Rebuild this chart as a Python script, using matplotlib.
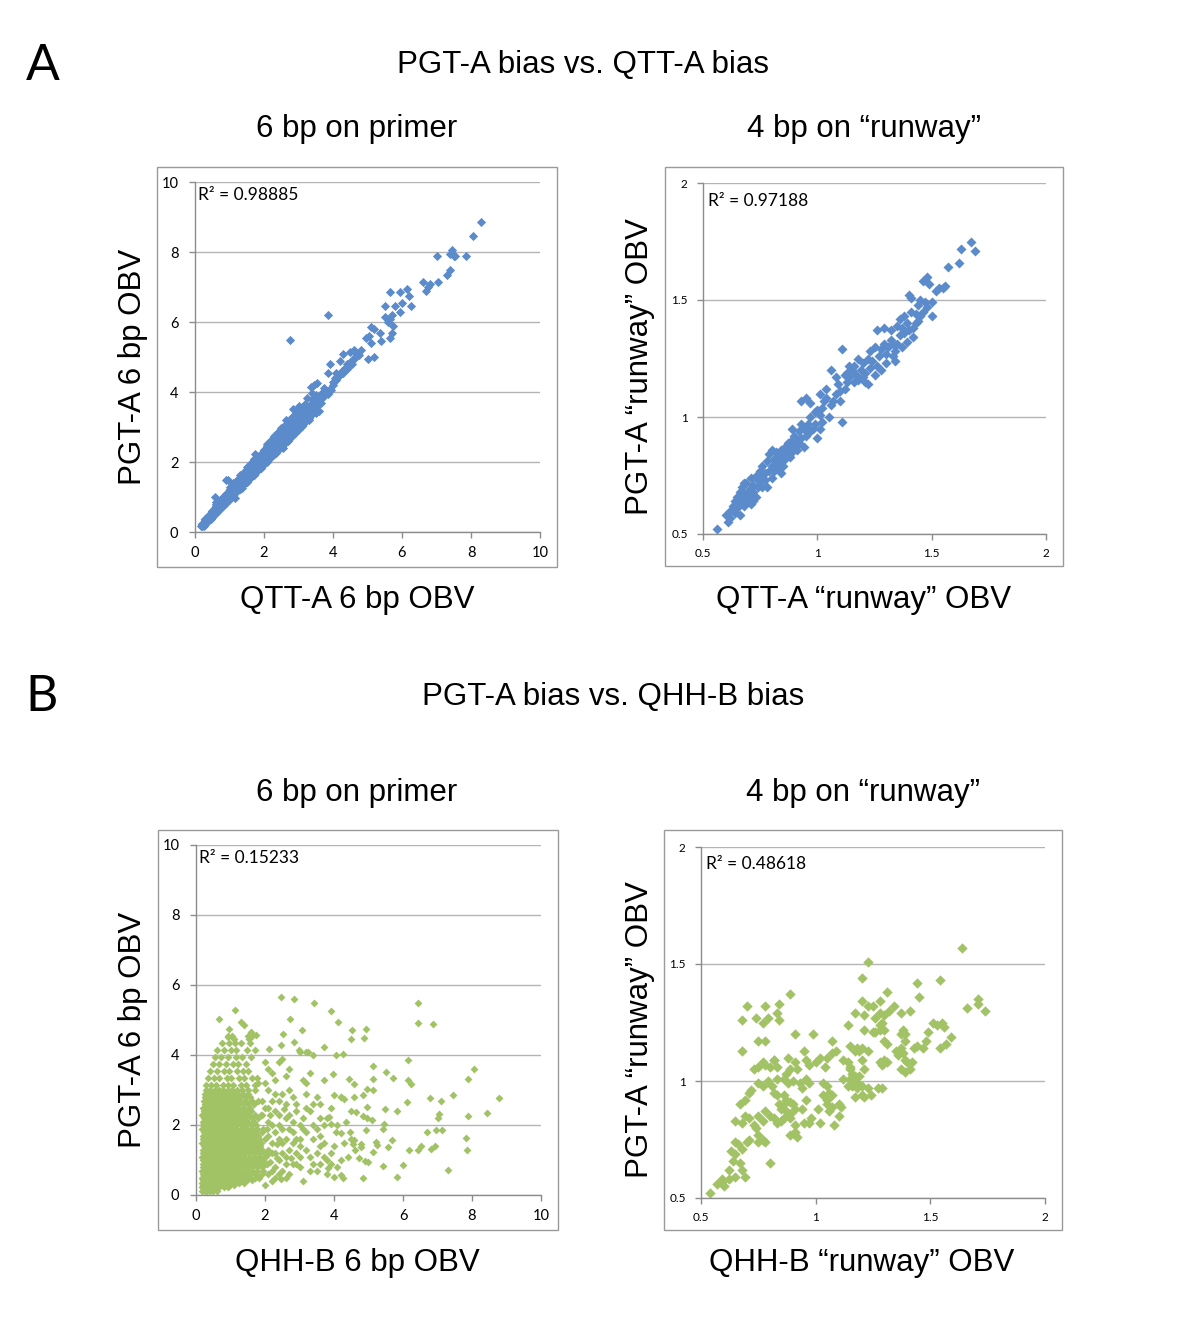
import matplotlib
matplotlib.use("Agg")
import matplotlib.pyplot as plt
from matplotlib.patches import Rectangle

plt.rcParams['font.family'] = ['Lato', 'DejaVu Sans']

W, H = 1200, 1333
BLUE = "#5B8BCB"
GREEN = "#A2C266"
AXIS_GRAY = "#8C8C8C"
GRID_GRAY = "#B4B4B4"
LABEL_FONT = ['Liberation Sans', 'DejaVu Sans']

# ---------------------------------------------------------------
# data (x, y)
# ---------------------------------------------------------------
# A, 6 bp on primer : QTT-A 6 bp OBV vs PGT-A 6 bp OBV
# the dense diagonal band, one column of y values per x position
a6_band_cols = [0.2, 0.3, 0.4, 0.5, 0.6, 0.7, 0.8, 0.9, 1.0, 1.1, 1.2, 1.3, 1.4, 1.5, 1.6, 1.7,
                1.8, 1.9, 2.0, 2.1, 2.2, 2.3, 2.4, 2.5, 2.6, 2.7, 2.8, 2.9, 3.0, 3.1, 3.2, 3.3,
                3.4, 3.5]
a6_band_ys = [
    [0.16, 0.23], [0.23, 0.30, 0.37], [0.33, 0.41, 0.49], [0.43, 0.52, 0.61],
    [0.53, 0.63, 0.73], [0.63, 0.74, 0.86], [0.73, 0.84, 0.97], [0.83, 0.95, 1.08],
    [0.93, 1.04, 1.15, 1.22], [1.03, 1.14, 1.25, 1.32], [1.13, 1.24, 1.35, 1.44],
    [1.23, 1.34, 1.45, 1.55], [1.33, 1.44, 1.56, 1.66], [1.43, 1.55, 1.67, 1.78],
    [1.53, 1.65, 1.77, 1.88], [1.63, 1.75, 1.88, 2.00], [1.73, 1.86, 2.00, 2.14],
    [1.83, 1.96, 2.10, 2.24], [1.93, 2.06, 2.20, 2.34], [2.03, 2.16, 2.30, 2.45],
    [2.13, 2.27, 2.41, 2.55], [2.23, 2.37, 2.52, 2.67], [2.33, 2.48, 2.63, 2.79],
    [2.43, 2.58, 2.74, 2.90], [2.53, 2.69, 2.85, 3.00], [2.63, 2.80, 2.96, 3.12],
    [2.74, 2.91, 3.08, 3.24], [2.84, 3.01, 3.18, 3.34], [2.94, 3.11, 3.28, 3.44],
    [3.04, 3.21, 3.38, 3.54], [3.14, 3.31, 3.47, 3.62], [3.25, 3.42, 3.58],
    [3.36, 3.52, 3.70], [3.46, 3.62, 3.78],
]
a6_low = [(0.18, 0.17), (0.22, 0.20), (0.25, 0.22), (0.28, 0.27), (0.30, 0.25), (0.32, 0.30),
          (0.35, 0.33), (0.38, 0.35), (0.40, 0.40), (0.42, 0.38), (0.45, 0.45), (0.48, 0.43),
          (0.50, 0.50), (0.52, 0.48), (0.55, 0.55), (0.58, 0.52), (0.60, 0.62), (0.62, 0.58),
          (0.65, 0.66), (0.68, 0.63), (0.70, 0.72), (0.72, 0.68), (0.75, 0.76), (0.78, 0.73),
          (0.80, 0.82), (0.82, 0.78), (0.85, 0.88), (0.88, 0.84), (0.90, 0.92), (0.92, 0.88),
          (0.95, 0.98), (0.98, 0.94), (1.00, 1.03), (0.30, 0.35), (0.40, 0.47), (0.50, 0.58),
          (0.55, 0.65), (0.60, 0.72), (0.65, 0.78), (0.70, 0.82), (0.75, 0.88), (0.58, 1.00),
          (0.90, 1.50), (0.96, 1.50), (0.60, 0.80), (0.80, 0.95), (0.85, 1.02), (0.25, 0.18),
          (0.35, 0.28), (0.45, 0.38), (0.20, 0.24), (0.72, 0.92), (0.62, 0.86)]
a6_mid = [(1.02, 0.98), (1.05, 1.08), (1.08, 1.05), (1.10, 1.15), (1.15, 1.20), (1.20, 1.25),
          (1.25, 1.30), (1.30, 1.36), (1.35, 1.42), (1.40, 1.48), (1.45, 1.52), (1.50, 1.58),
          (1.55, 1.62), (1.60, 1.68), (1.65, 1.73), (1.70, 1.78), (1.75, 1.84), (1.80, 1.90),
          (1.85, 1.95), (1.90, 2.00), (1.95, 2.05), (1.10, 1.40), (1.30, 1.62), (1.52, 1.85),
          (1.70, 2.10), (1.75, 2.22), (1.80, 2.18), (1.00, 1.28), (1.15, 0.98), (1.35, 1.25),
          (1.55, 1.48), (1.75, 1.68), (1.25, 1.52), (1.45, 1.75), (1.62, 1.98)]
a6_upper = [(2.10, 2.52), (2.30, 2.74), (2.40, 2.86), (2.55, 2.40), (2.60, 3.05), (2.80, 3.30),
            (2.10, 2.00), (2.35, 2.25), (2.70, 2.60), (2.20, 2.62), (2.65, 3.20), (2.50, 2.98),
            (3.00, 3.20), (3.10, 3.55), (3.20, 3.65), (3.00, 3.60), (2.85, 3.52), (2.95, 3.48),
            (3.40, 3.80), (3.30, 3.20), (3.50, 3.40), (3.60, 3.45), (3.45, 4.20), (3.55, 4.25),
            (3.35, 4.15), (3.85, 4.55), (3.60, 3.75), (3.65, 3.70), (3.70, 3.85), (3.75, 3.90),
            (3.80, 4.00), (3.85, 3.95), (3.90, 4.10), (3.95, 4.05), (3.70, 4.00), (4.00, 4.30),
            (3.55, 3.60), (3.65, 3.95), (3.75, 4.12), (3.50, 3.92), (3.40, 3.98), (3.25, 3.82)]
a6_high = [(4.00, 4.20), (4.05, 4.40), (4.10, 4.35), (4.15, 4.45), (4.20, 4.50), (4.25, 4.60),
           (4.30, 4.55), (4.35, 4.70), (4.40, 4.80), (4.45, 4.75), (4.50, 4.85), (4.55, 4.80),
           (4.60, 4.95), (4.65, 5.00), (4.70, 5.10), (4.75, 5.05), (4.80, 5.20), (4.30, 5.10),
           (4.50, 5.15), (4.60, 5.20), (4.40, 4.65), (3.90, 4.80), (4.20, 4.90), (4.10, 4.55),
           (5.05, 5.60), (5.10, 5.40), (5.20, 5.80), (5.00, 4.95), (5.20, 5.00), (5.40, 5.45),
           (5.50, 6.15), (5.50, 6.45), (5.60, 6.00), (5.65, 6.10), (5.70, 6.20), (5.65, 5.55),
           (5.70, 5.70), (5.75, 5.90), (5.80, 6.45), (5.65, 6.85), (5.95, 6.85), (6.00, 6.55),
           (5.95, 6.30), (6.15, 6.95), (6.20, 6.75), (6.25, 6.45), (6.60, 7.15), (6.70, 6.90),
           (6.75, 7.00), (6.80, 7.10), (7.05, 7.15), (7.00, 7.90), (7.30, 7.35), (7.40, 7.50),
           (7.40, 7.95), (7.45, 8.05), (7.50, 7.90), (7.55, 7.90), (7.85, 7.90), (8.05, 8.45),
           (8.30, 8.85), (5.10, 5.85), (4.95, 5.55), (5.35, 5.70), (2.75, 5.50), (3.85, 6.20)]

# A, 4 bp on runway : QTT-A runway OBV vs PGT-A runway OBV
a4_low = [(0.56, 0.52), (0.60, 0.58), (0.61, 0.55), (0.62, 0.60), (0.63, 0.62), (0.64, 0.59),
          (0.64, 0.64), (0.65, 0.61), (0.65, 0.66), (0.66, 0.63), (0.66, 0.68), (0.67, 0.65),
          (0.67, 0.70), (0.68, 0.62), (0.68, 0.67), (0.69, 0.64), (0.69, 0.72), (0.70, 0.66),
          (0.70, 0.69), (0.71, 0.63), (0.71, 0.74), (0.72, 0.68), (0.72, 0.71), (0.73, 0.66),
          (0.73, 0.75), (0.74, 0.70), (0.74, 0.73), (0.75, 0.77), (0.75, 0.71), (0.76, 0.74),
          (0.76, 0.79), (0.77, 0.73), (0.77, 0.76), (0.78, 0.81), (0.78, 0.70), (0.79, 0.77),
          (0.79, 0.84), (0.80, 0.79), (0.80, 0.74), (0.81, 0.82), (0.81, 0.77), (0.82, 0.85),
          (0.82, 0.80), (0.83, 0.78), (0.83, 0.83), (0.84, 0.86), (0.84, 0.81), (0.85, 0.84),
          (0.85, 0.79), (0.86, 0.87), (0.86, 0.82), (0.87, 0.85), (0.87, 0.89), (0.88, 0.83),
          (0.88, 0.87), (0.89, 0.90), (0.89, 0.85), (0.90, 0.88), (0.90, 0.92), (0.91, 0.86),
          (0.91, 0.90), (0.92, 0.94), (0.92, 0.89), (0.93, 0.91), (0.94, 0.87), (0.94, 0.95),
          (0.95, 0.92), (0.96, 0.97), (0.97, 0.94), (0.62, 0.57), (0.66, 0.58), (0.68, 0.72),
          (0.72, 0.64), (0.76, 0.70), (0.80, 0.86), (0.84, 0.76), (0.89, 0.95), (0.93, 0.97),
          (0.96, 0.93)]
a4_high = [(0.97, 1.00), (0.98, 0.95), (0.99, 0.97), (1.00, 0.91), (1.01, 0.95), (1.02, 0.98),
           (1.00, 1.03), (1.01, 1.01), (1.02, 1.04), (1.03, 1.07), (0.93, 1.07), (0.95, 1.08),
           (0.97, 1.06), (1.01, 1.10), (1.04, 1.12), (1.06, 1.05), (1.07, 1.07), (1.08, 1.10),
           (1.09, 1.14), (1.10, 1.07), (1.10, 1.11), (1.11, 1.29), (1.11, 0.98), (1.12, 1.12),
           (1.12, 1.18), (1.13, 1.15), (1.13, 1.19), (1.14, 1.22), (1.14, 1.17), (1.15, 1.20),
           (1.16, 1.22), (1.16, 1.15), (1.17, 1.18), (1.06, 1.20), (1.08, 1.17), (1.18, 1.16),
           (1.19, 1.20), (1.20, 1.17), (1.20, 1.23), (1.21, 1.15), (1.21, 1.19), (1.22, 1.25),
           (1.22, 1.14), (1.23, 1.28), (1.23, 1.21), (1.24, 1.24), (1.25, 1.18), (1.25, 1.30),
           (1.26, 1.22), (1.26, 1.37), (1.27, 1.26), (1.28, 1.20), (1.28, 1.29), (1.29, 1.31),
           (1.30, 1.27), (1.30, 1.23), (1.31, 1.30), (1.32, 1.33), (1.32, 1.37), (1.33, 1.26),
           (1.33, 1.31), (1.34, 1.24), (1.34, 1.28), (1.35, 1.31), (1.35, 1.39), (1.36, 1.42),
           (1.36, 1.35), (1.37, 1.38), (1.37, 1.30), (1.38, 1.36), (1.38, 1.43), (1.39, 1.40),
           (1.40, 1.37), (1.40, 1.52), (1.41, 1.45), (1.41, 1.51), (1.42, 1.38), (1.42, 1.34),
           (1.43, 1.44), (1.43, 1.40), (1.44, 1.41), (1.44, 1.48), (1.45, 1.50), (1.45, 1.43),
           (1.46, 1.45), (1.46, 1.58), (1.47, 1.49), (1.48, 1.60), (1.48, 1.47), (1.49, 1.57),
           (1.50, 1.43), (1.50, 1.49), (1.52, 1.54), (1.53, 1.55), (1.55, 1.55), (1.56, 1.56),
           (1.57, 1.64), (1.62, 1.66), (1.63, 1.72), (1.67, 1.75), (1.69, 1.71), (1.29, 1.38),
           (1.39, 1.32), (1.18, 1.25), (1.04, 1.08), (0.99, 1.02), (1.05, 1.00)]

# B, 6 bp on primer : QHH-B 6 bp OBV vs PGT-A 6 bp OBV
# dense core: one row of x positions per y level
b6_core_levels = [0.12, 0.22, 0.28, 0.35, 0.42, 0.5, 0.6, 0.7, 0.8, 0.9, 1.0, 1.1, 1.2, 1.3,
                  1.4, 1.5, 1.6, 1.7, 1.8, 1.9, 2.0, 2.1, 2.2, 2.3, 2.4, 2.5, 2.6, 2.7, 2.8,
                  2.9, 3.0, 3.15, 3.35, 3.55, 3.75, 3.95, 4.15, 4.35, 4.55]
b6_core_xs = [
    [0.18, 0.25, 0.32, 0.40, 0.50, 0.60],
    [0.17, 0.28, 0.38, 0.48, 0.58, 0.68, 0.80, 0.92],
    [0.21, 0.33, 0.43, 0.53, 0.63, 0.74, 0.86, 0.98, 1.10],
    [0.16, 0.24, 0.34, 0.44, 0.55, 0.65, 0.76, 0.88, 1.00, 1.12, 1.25, 1.38],
    [0.20, 0.30, 0.40, 0.50, 0.61, 0.72, 0.83, 0.95, 1.07, 1.19, 1.32, 1.48, 1.62],
    [0.18, 0.27, 0.37, 0.47, 0.57, 0.68, 0.79, 0.90, 1.02, 1.14, 1.27, 1.40, 1.55, 1.70, 1.84],
    [0.21, 0.31, 0.42, 0.52, 0.63, 0.74, 0.85, 0.96, 1.08, 1.20, 1.33, 1.46, 1.60, 1.75, 1.90],
    [0.16, 0.25, 0.35, 0.46, 0.56, 0.67, 0.78, 0.89, 1.00, 1.12, 1.24, 1.37, 1.50, 1.63, 1.78, 1.95],
    [0.21, 0.31, 0.42, 0.53, 0.64, 0.75, 0.86, 0.98, 1.10, 1.22, 1.35, 1.48, 1.62, 1.76, 1.92],
    [0.19, 0.29, 0.39, 0.50, 0.61, 0.72, 0.83, 0.95, 1.07, 1.19, 1.32, 1.45, 1.58, 1.72, 1.88, 2.05],
    [0.20, 0.31, 0.42, 0.53, 0.64, 0.75, 0.87, 0.99, 1.11, 1.24, 1.37, 1.50, 1.64, 1.80, 1.95],
    [0.16, 0.26, 0.36, 0.47, 0.58, 0.69, 0.80, 0.92, 1.04, 1.16, 1.29, 1.42, 1.56, 1.70, 1.85, 2.00],
    [0.21, 0.32, 0.43, 0.54, 0.66, 0.77, 0.89, 1.01, 1.13, 1.26, 1.40, 1.54, 1.68, 1.83, 1.98],
    [0.19, 0.29, 0.40, 0.51, 0.62, 0.73, 0.85, 0.97, 1.09, 1.22, 1.35, 1.48, 1.62, 1.77, 1.92],
    [0.22, 0.33, 0.44, 0.56, 0.67, 0.79, 0.91, 1.03, 1.16, 1.29, 1.42, 1.56, 1.70, 1.86],
    [0.16, 0.26, 0.37, 0.48, 0.59, 0.70, 0.82, 0.94, 1.06, 1.18, 1.31, 1.44, 1.58, 1.73, 1.88],
    [0.21, 0.32, 0.43, 0.54, 0.65, 0.77, 0.89, 1.01, 1.13, 1.26, 1.39, 1.53, 1.68, 1.84],
    [0.19, 0.29, 0.40, 0.51, 0.62, 0.74, 0.86, 0.98, 1.10, 1.23, 1.36, 1.50, 1.65, 1.80],
    [0.22, 0.33, 0.44, 0.56, 0.68, 0.80, 0.92, 1.04, 1.17, 1.30, 1.44, 1.58, 1.73, 1.90],
    [0.17, 0.27, 0.38, 0.49, 0.60, 0.71, 0.83, 0.95, 1.07, 1.20, 1.33, 1.47, 1.62, 1.78, 1.95],
    [0.21, 0.32, 0.43, 0.55, 0.67, 0.79, 0.91, 1.03, 1.16, 1.29, 1.43, 1.58, 1.74],
    [0.19, 0.29, 0.40, 0.51, 0.62, 0.74, 0.86, 0.98, 1.11, 1.24, 1.38, 1.52, 1.68],
    [0.22, 0.34, 0.45, 0.57, 0.69, 0.81, 0.93, 1.05, 1.18, 1.32, 1.46, 1.62, 1.80],
    [0.17, 0.27, 0.38, 0.49, 0.61, 0.73, 0.85, 0.97, 1.10, 1.23, 1.37, 1.52, 1.70, 1.88],
    [0.22, 0.33, 0.44, 0.56, 0.68, 0.80, 0.92, 1.05, 1.18, 1.31, 1.45, 1.60],
    [0.20, 0.30, 0.41, 0.52, 0.64, 0.76, 0.88, 1.00, 1.13, 1.26, 1.40, 1.56],
    [0.25, 0.36, 0.47, 0.59, 0.71, 0.83, 0.95, 1.08, 1.21, 1.35, 1.50, 1.68],
    [0.22, 0.32, 0.43, 0.55, 0.67, 0.79, 0.91, 1.04, 1.17, 1.31, 1.46, 1.62, 1.80],
    [0.27, 0.38, 0.50, 0.62, 0.74, 0.86, 0.99, 1.12, 1.26, 1.41, 1.57],
    [0.25, 0.36, 0.47, 0.59, 0.71, 0.83, 0.96, 1.09, 1.22, 1.36, 1.52],
    [0.30, 0.42, 0.54, 0.66, 0.79, 0.92, 1.05, 1.19, 1.34, 1.50],
    [0.30, 0.44, 0.58, 0.77, 0.93, 1.08, 1.30, 1.45, 1.70],
    [0.36, 0.52, 0.66, 0.90, 1.02, 1.24, 1.40, 1.62, 1.78],
    [0.42, 0.60, 0.81, 0.95, 1.18, 1.35, 1.52],
    [0.48, 0.66, 0.88, 1.08, 1.22, 1.44],
    [0.55, 0.72, 0.92, 1.16, 1.33, 1.60],
    [0.62, 0.82, 1.00, 1.15, 1.48, 1.72],
    [0.75, 0.95, 1.12, 1.30, 1.56],
    [0.92, 1.05, 1.50, 1.62],
]
b6_mid = [(2.0, 3.8), (2.1, 3.6), (2.2, 3.5), (2.0, 3.2), (2.1, 3.0), (2.3, 3.3), (2.4, 3.8),
          (2.5, 3.9), (2.6, 3.4), (2.7, 3.0), (2.5, 2.9), (2.4, 2.7), (2.6, 2.6), (2.8, 2.8),
          (2.9, 2.4), (3.1, 2.2), (3.2, 2.5), (3.3, 2.4), (3.0, 2.0), (3.2, 1.8), (3.4, 2.0),
          (3.5, 1.9), (3.6, 1.7), (3.7, 1.5), (3.6, 1.4), (3.5, 1.2), (3.7, 1.1), (3.8, 1.0),
          (3.4, 0.9), (3.3, 0.7), (3.1, 0.4), (3.0, 0.8), (2.9, 1.2), (2.8, 1.5), (2.7, 1.9),
          (2.6, 2.2), (2.5, 1.5), (2.4, 1.0), (2.5, 0.7), (2.3, 0.5), (2.2, 0.4), (2.1, 0.6),
          (2.0, 0.3), (2.2, 1.2), (2.3, 1.8), (2.1, 2.1), (2.0, 2.5), (2.2, 2.7), (2.4, 2.3),
          (3.2, 3.2), (3.3, 3.5), (3.1, 3.3), (3.2, 2.9), (3.5, 2.8), (3.6, 2.6), (3.8, 2.2),
          (3.9, 2.5), (3.0, 1.6), (3.2, 1.3), (3.4, 1.6), (3.7, 2.0), (3.9, 1.2), (3.6, 0.9),
          (3.8, 0.6), (2.7, 0.6), (2.6, 1.1), (2.9, 0.9), (3.0, 1.4), (2.8, 2.1), (2.9, 2.6),
          (2.3, 2.9), (2.7, 3.6), (3.0, 4.1), (3.2, 4.1), (4.2, 2.8), (4.1, 2.0), (4.3, 1.5),
          (4.5, 1.6), (4.2, 1.0), (4.1, 0.8), (4.0, 1.4), (4.4, 1.1), (4.6, 1.3), (4.5, 2.4),
          (1.9, 2.3), (2.0, 1.6), (2.1, 1.3), (2.0, 0.9), (1.9, 1.0), (2.2, 2.0), (1.8, 3.2),
          (1.7, 3.0), (1.9, 2.7), (2.05, 1.9), (2.15, 0.95), (2.35, 1.45), (2.45, 0.45),
          (2.1, 1.7), (2.2, 1.5), (2.3, 1.2), (2.3, 0.8), (2.4, 1.6), (2.5, 1.2), (2.5, 1.9),
          (2.6, 0.9), (2.6, 1.6), (2.7, 1.3), (2.7, 2.3), (2.8, 0.9), (2.8, 1.8), (2.9, 1.6),
          (2.1, 2.5), (2.3, 2.4), (2.4, 2.0), (2.2, 0.7), (2.4, 0.6), (2.6, 0.5), (2.05, 1.15),
          (2.15, 2.3), (2.35, 1.05), (2.55, 2.45), (2.75, 1.05), (3.0, 1.1), (3.1, 1.9),
          (3.3, 1.1), (3.4, 2.6), (3.5, 0.7), (3.6, 2.2), (3.7, 3.3), (3.9, 0.9)]
b6_sparse = [(2.46, 5.67), (2.83, 5.61), (3.43, 5.48), (1.14, 5.29), (3.91, 5.26), (6.43, 5.49),
             (6.43, 4.92), (6.88, 4.90), (0.68, 5.02), (2.73, 5.04), (4.13, 4.94), (4.51, 4.71),
             (4.49, 4.47), (4.94, 4.73), (4.88, 4.50), (3.06, 4.71), (0.97, 4.75), (0.92, 4.52),
             (1.11, 4.47), (1.29, 4.94), (1.40, 4.87), (1.59, 4.66), (1.55, 4.47), (1.74, 4.56),
             (2.13, 4.18), (2.46, 4.28), (2.51, 4.61), (2.85, 4.37), (3.72, 4.23), (2.98, 4.14),
             (3.24, 4.09), (3.38, 3.99), (4.06, 3.99), (4.25, 4.04), (6.14, 3.87), (8.05, 3.61),
             (7.87, 3.31), (5.12, 3.68), (5.51, 3.52), (5.70, 3.35), (4.44, 3.31), (4.59, 3.18),
             (3.98, 3.45), (6.14, 3.28), (6.23, 3.16), (5.12, 3.31), (4.97, 3.04), (5.14, 2.99),
             (4.83, 2.85), (4.59, 2.80), (4.01, 2.85), (4.20, 2.80), (4.28, 2.74), (7.44, 2.85),
             (6.78, 2.76), (7.10, 2.68), (8.79, 2.76), (6.12, 2.66), (4.97, 2.52), (5.49, 2.47),
             (5.84, 2.40), (4.65, 2.38), (4.83, 2.26), (4.97, 2.19), (8.43, 2.35), (7.05, 2.31),
             (7.02, 2.19), (7.87, 2.26), (5.09, 2.14), (4.35, 2.09), (5.46, 2.02), (5.41, 1.90),
             (3.86, 2.23), (3.91, 2.04), (4.06, 1.81), (4.20, 1.76), (6.71, 1.81), (6.96, 1.85),
             (7.12, 1.85), (4.47, 1.81), (4.93, 1.85), (4.59, 1.57), (4.54, 1.47), (4.78, 1.47),
             (5.67, 1.57), (5.22, 1.52), (5.25, 1.43), (5.56, 1.38), (4.78, 1.38), (7.83, 1.62),
             (6.52, 1.41), (6.43, 1.28), (6.81, 1.31), (6.94, 1.41), (6.18, 1.28), (7.85, 1.28),
             (5.12, 1.24), (4.73, 1.05), (4.90, 0.98), (4.98, 0.95), (5.41, 0.84), (5.99, 0.86),
             (7.29, 0.71), (5.83, 0.52), (4.83, 0.48), (4.01, 0.52), (4.20, 0.57), (4.25, 0.48),
             (3.82, 0.76)]

# B, 4 bp on runway : QHH-B runway OBV vs PGT-A runway OBV
b4_pts = [(0.54, 0.52), (0.57, 0.56), (0.59, 0.57), (0.60, 0.55), (0.59, 0.58), (0.62, 0.58),
          (0.62, 0.62), (0.64, 0.66), (0.65, 0.59), (0.63, 0.70), (0.65, 0.69), (0.67, 0.65),
          (0.68, 0.62), (0.69, 0.59), (0.65, 0.74), (0.66, 0.73), (0.70, 0.74), (0.68, 0.71),
          (0.71, 0.75), (0.65, 0.83), (0.68, 0.82), (0.69, 0.85), (0.71, 0.84), (0.73, 0.81),
          (0.67, 0.90), (0.69, 0.92), (0.71, 0.95), (0.72, 0.96), (0.74, 0.80), (0.75, 0.77),
          (0.75, 0.74), (0.77, 0.75), (0.78, 0.74), (0.80, 0.65), (0.77, 0.83), (0.75, 0.85),
          (0.78, 0.87), (0.80, 0.85), (0.82, 0.84), (0.83, 0.82), (0.85, 0.83), (0.75, 0.99),
          (0.77, 0.98), (0.79, 1.00), (0.81, 0.98), (0.82, 0.95), (0.73, 1.05), (0.75, 1.06),
          (0.77, 1.08), (0.78, 1.07), (0.80, 1.06), (0.82, 1.09), (0.75, 1.17), (0.78, 1.17),
          (0.77, 1.25), (0.79, 1.27), (0.78, 1.32), (0.74, 1.27), (0.70, 1.32), (0.68, 1.26),
          (0.68, 1.13), (0.84, 1.33), (0.83, 1.29), (0.84, 1.26), (0.89, 1.37), (0.82, 1.09),
          (0.83, 1.06), (0.83, 1.01), (0.83, 0.94), (0.86, 0.94), (0.87, 0.92), (0.84, 0.90),
          (0.85, 0.88), (0.86, 0.90), (0.89, 0.91), (0.90, 0.90), (0.87, 0.87), (0.89, 0.86),
          (0.91, 0.88), (0.86, 0.84), (0.89, 0.84), (0.88, 1.10), (0.91, 1.08), (0.89, 1.05),
          (0.92, 1.05), (0.87, 1.03), (0.86, 1.01), (0.88, 0.99), (0.90, 1.00), (0.93, 0.99),
          (0.91, 1.20), (0.99, 1.20), (0.95, 1.13), (0.96, 1.09), (0.97, 1.07), (1.00, 1.08),
          (0.96, 1.01), (0.97, 0.99), (0.94, 0.97), (0.96, 0.92), (0.94, 0.88), (0.97, 0.82),
          (0.95, 0.82), (0.98, 0.84), (0.91, 0.81), (0.91, 0.78), (0.92, 0.76), (0.89, 0.77),
          (1.02, 1.10), (1.05, 1.10), (1.07, 1.17), (1.09, 1.13), (1.07, 1.12), (1.04, 1.06),
          (1.03, 0.99), (1.05, 0.98), (1.06, 0.95), (1.03, 0.94), (1.07, 0.94), (1.05, 0.92),
          (1.05, 0.90), (1.07, 0.89), (1.06, 0.87), (1.01, 0.88), (1.02, 0.82), (1.08, 0.81),
          (1.10, 0.85), (1.11, 0.89), (1.10, 0.90), (1.12, 1.09), (1.14, 1.08), (1.15, 1.06),
          (1.14, 1.24), (1.15, 1.15), (1.17, 1.13), (1.18, 1.14), (1.19, 1.13), (1.17, 1.29),
          (1.20, 1.34), (1.20, 1.44), (1.23, 1.51), (1.23, 1.32), (1.25, 1.32), (1.16, 1.03),
          (1.17, 1.02), (1.19, 1.02), (1.15, 1.01), (1.14, 0.98), (1.16, 0.98), (1.18, 0.99),
          (1.18, 0.97), (1.20, 0.98), (1.17, 0.93), (1.20, 0.94), (1.21, 0.93), (1.23, 0.97),
          (1.24, 0.94), (1.27, 0.97), (1.29, 0.97), (1.20, 1.09), (1.21, 1.05), (1.20, 1.14),
          (1.23, 1.13), (1.25, 1.21), (1.26, 1.21), (1.28, 1.22), (1.30, 1.22), (1.28, 1.24),
          (1.29, 1.25), (1.28, 1.29), (1.30, 1.28), (1.28, 1.34), (1.31, 1.38), (1.34, 1.32),
          (1.28, 1.08), (1.29, 1.07), (1.30, 1.09), (1.31, 1.08), (1.30, 1.17), (1.31, 1.16),
          (1.35, 1.13), (1.37, 1.14), (1.38, 1.12), (1.36, 1.11), (1.39, 1.09), (1.40, 1.08),
          (1.42, 1.08), (1.39, 1.04), (1.37, 1.05), (1.41, 1.05), (1.38, 1.22), (1.37, 1.20),
          (1.39, 1.17), (1.41, 1.30), (1.43, 1.14), (1.44, 1.15), (1.44, 1.42), (1.45, 1.36),
          (1.48, 1.17), (1.47, 1.14), (1.49, 1.21), (1.51, 1.25), (1.53, 1.24), (1.55, 1.25),
          (1.56, 1.23), (1.54, 1.14), (1.57, 1.16), (1.59, 1.19), (1.54, 1.43), (1.64, 1.57),
          (1.66, 1.31), (1.71, 1.35), (1.71, 1.33), (1.74, 1.30), (1.37, 1.29), (1.26, 1.27),
          (1.32, 1.30), (1.21, 1.28), (1.15, 1.05), (1.12, 1.01), (1.21, 1.22), (1.39, 1.20)]

r2_values = ["0.98885", "0.97188", "0.15233", "0.48618"]
obv_ticks = [0, 2, 4, 6, 8, 10]
runway_ticks = [0.5, 1, 1.5, 2]
runway_ticklabels = ["0.5", "1", "1.5", "2"]


def fx(px):
    return px / W


def fy(py):
    return 1 - py / H


def split(points):
    return [p[0] for p in points], [p[1] for p in points]


def unroll_cols(cols, ys_per_col):
    xs, ys = [], []
    for c, col in zip(cols, ys_per_col):
        xs += [c] * len(col)
        ys += col
    return xs, ys


fig = plt.figure(figsize=(W / 100, H / 100), dpi=100)


def make_panel(rect_px, frame_px, ticks, ticklabels, tick_fs, xpad, ypad):
    left, top, right, bottom = rect_px
    ax = fig.add_axes([fx(left), fy(bottom), fx(right - left), (bottom - top) / H])
    ax.set_xlim(ticks[0], ticks[-1])
    ax.set_ylim(ticks[0], ticks[-1])
    ax.set_xticks(ticks)
    ax.set_yticks(ticks)
    ax.set_xticklabels(ticklabels, fontsize=tick_fs)
    ax.set_yticklabels(ticklabels, fontsize=tick_fs)
    for s in ("top", "right"):
        ax.spines[s].set_visible(False)
    for s in ("left", "bottom"):
        ax.spines[s].set_color(AXIS_GRAY)
        ax.spines[s].set_linewidth(1.0)
    ax.tick_params(direction="out", length=4, width=1.0, color=AXIS_GRAY)
    ax.tick_params(axis="x", pad=xpad)
    ax.tick_params(axis="y", pad=ypad)
    ax.yaxis.grid(True, color=GRID_GRAY, lw=1.0)
    ax.set_axisbelow(True)
    ax.patch.set_alpha(0)
    fl, ft, fr, fb = frame_px
    fig.patches.append(Rectangle((fx(fl), fy(fb)), fx(fr - fl), (fb - ft) / H,
                                 transform=fig.transFigure, fill=False,
                                 edgecolor="#9A9A9A", lw=1.0, zorder=0))
    return ax


# panel A left
ax1 = make_panel((195, 182, 540, 532), (157, 167, 557, 567), obv_ticks,
                 [str(t) for t in obv_ticks], 10.5, 6, 8)
bx, by = unroll_cols(a6_band_cols, a6_band_ys)
ax1.scatter(bx, by, marker="D", s=24, color=BLUE, lw=0)
for seg in (a6_low, a6_mid, a6_upper, a6_high):
    xs, ys = split(seg)
    ax1.scatter(xs, ys, marker="D", s=22, color=BLUE, lw=0, clip_on=False)
ax1.text(0.01, 0.963, "R² = " + r2_values[0], transform=ax1.transAxes,
         fontsize=12.5, va="center", ha="left")

# panel A right
ax2 = make_panel((703, 183, 1046, 534), (665, 167, 1063, 566), runway_ticks,
                 runway_ticklabels, 8.5, 6, 7)
for seg in (a4_low, a4_high):
    xs, ys = split(seg)
    ax2.scatter(xs, ys, marker="D", s=26, color=BLUE, lw=0, clip_on=False)
ax2.text(0.014, 0.949, "R² = " + r2_values[1], transform=ax2.transAxes,
         fontsize=12.5, va="center", ha="left")

# panel B left
ax3 = make_panel((196, 845, 541, 1195), (158, 830, 558, 1230), obv_ticks,
                 [str(t) for t in obv_ticks], 10.5, 6, 8)
core_x, core_y = [], []
for lvl, row in zip(b6_core_levels, b6_core_xs):
    core_x += row
    core_y += [lvl] * len(row)
ax3.scatter(core_x, core_y, marker="D", s=16, color=GREEN, lw=0)
for seg in (b6_mid, b6_sparse):
    xs, ys = split(seg)
    ax3.scatter(xs, ys, marker="D", s=16, color=GREEN, lw=0)
ax3.text(0.01, 0.963, "R² = " + r2_values[2], transform=ax3.transAxes,
         fontsize=12.5, va="center", ha="left")

# panel B right
ax4 = make_panel((701, 847, 1045, 1198), (664, 830, 1062, 1230), runway_ticks,
                 runway_ticklabels, 8.5, 6, 7)
xs, ys = split(b4_pts)
ax4.scatter(xs, ys, marker="D", s=28, color=GREEN, lw=0, clip_on=False)
ax4.text(0.014, 0.952, "R² = " + r2_values[3], transform=ax4.transAxes,
         fontsize=12.5, va="center", ha="left")

# ---------------------------------------------------------------
# labels
# ---------------------------------------------------------------
TXT = 22.5


def label(x, y, s, rot=0):
    fig.text(fx(x), fy(y), s, fontsize=TXT, ha="center", va="center",
             rotation=rot, family=LABEL_FONT)


fig.text(fx(43), fy(66), "A", fontsize=36, ha="center", va="center")
fig.text(fx(42), fy(697), "B", fontsize=36, ha="center", va="center")
label(583, 65, "PGT-A bias vs. QTT-A bias")
label(613, 697, "PGT-A bias vs. QHH-B bias")

label(357, 129, "6 bp on primer")
label(864, 129, "4 bp on \u201crunway\u201d")
label(357, 793, "6 bp on primer")
label(863, 793, "4 bp on \u201crunway\u201d")

label(357, 600, "QTT-A 6 bp OBV")
label(864, 600, "QTT-A \u201crunway\u201d OBV")
label(357, 1263, "QHH-B 6 bp OBV")
label(862, 1263, "QHH-B \u201crunway\u201d OBV")

label(133, 367, "PGT-A 6 bp OBV", 90)
label(640, 367, "PGT-A \u201crunway\u201d OBV", 90)
label(133, 1030, "PGT-A 6 bp OBV", 90)
label(640, 1030, "PGT-A \u201crunway\u201d OBV", 90)

fig.savefig("out.png", dpi=100)
